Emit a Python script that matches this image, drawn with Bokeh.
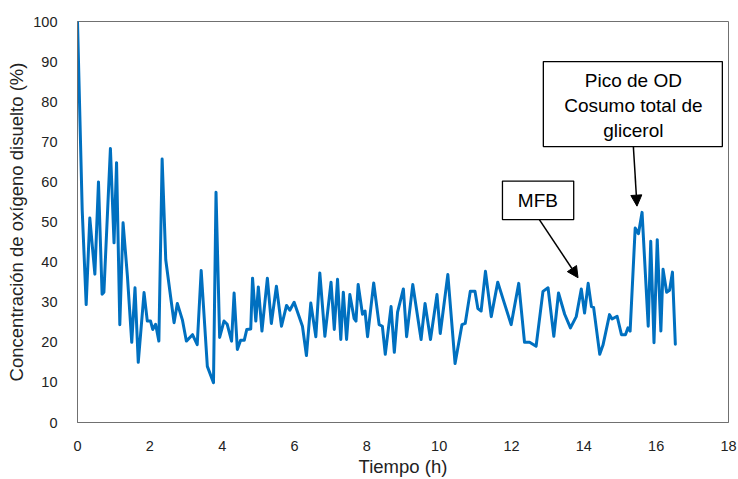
from bokeh.plotting import figure
from bokeh.models import (BoxAnnotation, Label, Arrow, NormalHead, FixedTicker,
                          Range1d)
from bokeh.embed import file_html
from bokeh.resources import INLINE

# ---- data ----
tiempo_h = [0, 0.13, 0.24, 0.34, 0.48, 0.58, 0.68, 0.73, 0.91, 1.01, 1.08, 1.17,
            1.26, 1.38, 1.50, 1.59, 1.68, 1.84, 1.93, 2.02, 2.08, 2.16, 2.25,
            2.34, 2.44, 2.58, 2.67, 2.76, 2.90, 3.01, 3.18, 3.31, 3.42, 3.59,
            3.76, 3.83, 3.93, 4.05, 4.14, 4.26, 4.33, 4.42, 4.51, 4.61, 4.68,
            4.79, 4.84, 4.93, 5.00, 5.10, 5.25, 5.36, 5.50, 5.64, 5.78, 5.87,
            5.99, 6.22, 6.33, 6.45, 6.59, 6.70, 6.84, 7.01, 7.10, 7.19, 7.28,
            7.35, 7.44, 7.53, 7.65, 7.70, 7.76, 7.88, 7.95, 8.02, 8.19, 8.34,
            8.43, 8.51, 8.67, 8.76, 8.85, 9.01, 9.10, 9.27, 9.50, 9.61, 9.76,
            9.94, 10.03, 10.24, 10.44, 10.63, 10.72, 10.86, 10.99, 11.07,
            11.16, 11.28, 11.44, 11.62, 11.78, 11.99, 12.20, 12.36, 12.50,
            12.68, 12.87, 13.01, 13.17, 13.30, 13.47, 13.63, 13.79, 13.93,
            14.02, 14.12, 14.21, 14.27, 14.44, 14.53, 14.71, 14.78, 14.92,
            15.04, 15.15, 15.22, 15.28, 15.42, 15.51, 15.61, 15.78, 15.85,
            15.94, 16.03, 16.13, 16.19, 16.29, 16.37, 16.45, 16.53]

od_pct = [100, 53, 29.4, 51, 37, 60, 32, 32.5, 68.3, 44.8, 64.8, 24.4,
          49.8, 36.5, 20, 33.6, 15, 32.4, 25.3, 25.3, 23.2, 24.5, 20.3,
          65.7, 40.6, 31, 24.9, 29.7, 25.6, 20.3, 21.9, 19.4, 37.9, 14,
          9.9, 57.4, 21.2, 25.3, 24.5, 20.3, 32.3, 18.2, 20.5, 20.5, 23.2,
          23.3, 36, 25.3, 33.8, 22.8, 36, 24.7, 34, 24, 29.2, 28,
          30, 24, 16.7, 29.8, 21.4, 37.3, 21.5, 35, 23.2, 35.7, 20.7,
          32.5, 20.7, 31.9, 25.9, 25.3, 34.4, 27, 27.8, 21.4, 34.8, 24.4,
          24, 17, 28.9, 17.5, 27.5, 33.3, 21.4, 34.4, 20.7, 29.7, 20.7,
          31.9, 22.2, 36.9, 14.7, 24.4, 24.7, 32.7, 32.7, 28.4,
          27.8, 37.7, 26.4, 35, 30.4, 24.4, 34.7, 20, 20,
          19, 32.7, 33.6, 21.5, 32.3, 27, 23.6, 26.4, 33.3,
          27.3, 34.7, 28.9, 28.7, 17, 19.3, 26.9, 25.8, 26.5,
          21.9, 21.9, 23.6, 22.8, 48.5, 47.1, 52.4, 24, 45.2,
          19.9, 45.6, 22.8, 38.2, 32.5, 33, 37.5, 19.5]

x_ticks = [0, 2, 4, 6, 8, 10, 12, 14, 16, 18]
y_ticks = [0, 10, 20, 30, 40, 50, 60, 70, 80, 90, 100]

FONT = "Liberation Sans"
TXT = "#222222"

p = figure(width=738, height=479, output_backend="svg", toolbar_location=None,
           x_range=Range1d(0, 18), y_range=Range1d(0, 100),
           min_border_left=77, min_border_right=10, min_border_top=21,
           min_border_bottom=56)
p.background_fill_color = "white"
p.border_fill_color = "white"
p.outline_line_color = "#707070"
p.outline_line_width = 1
p.grid.visible = False

p.line(tiempo_h, od_pct, line_color="#0070C0", line_width=3,
       line_join="round", line_cap="round")

for ax in (p.xaxis[0], p.yaxis[0]):
    ax.axis_line_color = "#707070"
    ax.major_tick_line_color = None
    ax.minor_tick_line_color = None
    ax.major_label_text_font = FONT
    ax.major_label_text_font_size = "14.5px"
    ax.major_label_text_color = TXT
    ax.axis_label_text_font = FONT
    ax.axis_label_text_font_size = "18.5px"
    ax.axis_label_text_font_style = "normal"
    ax.axis_label_text_color = TXT

p.xaxis.ticker = FixedTicker(ticks=x_ticks)
p.yaxis.ticker = FixedTicker(ticks=y_ticks)
p.xaxis.axis_label = "Tiempo (h)"
p.yaxis.axis_label = "Concentración de oxígeno disuelto (%)"
p.xaxis.major_label_standoff = 12
p.yaxis.major_label_standoff = 14
p.xaxis.axis_label_standoff = 2
p.yaxis.axis_label_standoff = 3

# annotation boxes
box_pico = BoxAnnotation(left=12.88, right=17.83, top=90.0, bottom=68.8,
                         fill_color="white", fill_alpha=1.0,
                         line_color="black", line_alpha=1.0, line_width=1.3,
                         level="overlay")
box_mfb = BoxAnnotation(left=11.75, right=13.72, top=60.2, bottom=50.6,
                        fill_color="white", fill_alpha=1.0,
                        line_color="black", line_alpha=1.0, line_width=1.3,
                        level="overlay")
p.add_layout(box_pico)
p.add_layout(box_mfb)

for txt, yy in (("Pico de OD", 85.3), ("Cosumo total de", 79.05), ("glicerol", 72.8)):
    p.add_layout(Label(x=15.37, y=yy, text=txt, text_align="center",
                       text_baseline="middle", text_font=FONT,
                       text_font_size="19px", text_color="black", level="overlay"))
p.add_layout(Label(x=12.73, y=55.4, text="MFB", text_align="center",
                   text_baseline="middle", text_font=FONT,
                   text_font_size="19px", text_color="black", level="overlay"))

p.add_layout(Arrow(x_start=15.37, y_start=68.8, x_end=15.47, y_end=53.95,
                   line_color="black", line_width=1.5,
                   end=NormalHead(size=11, line_color="black", fill_color="black")))
p.add_layout(Arrow(x_start=12.77, y_start=50.6, x_end=13.84, y_end=36.1,
                   line_color="black", line_width=1.5,
                   end=NormalHead(size=11, line_color="black", fill_color="black")))

open("out.html", "w").write(file_html(p, INLINE))
